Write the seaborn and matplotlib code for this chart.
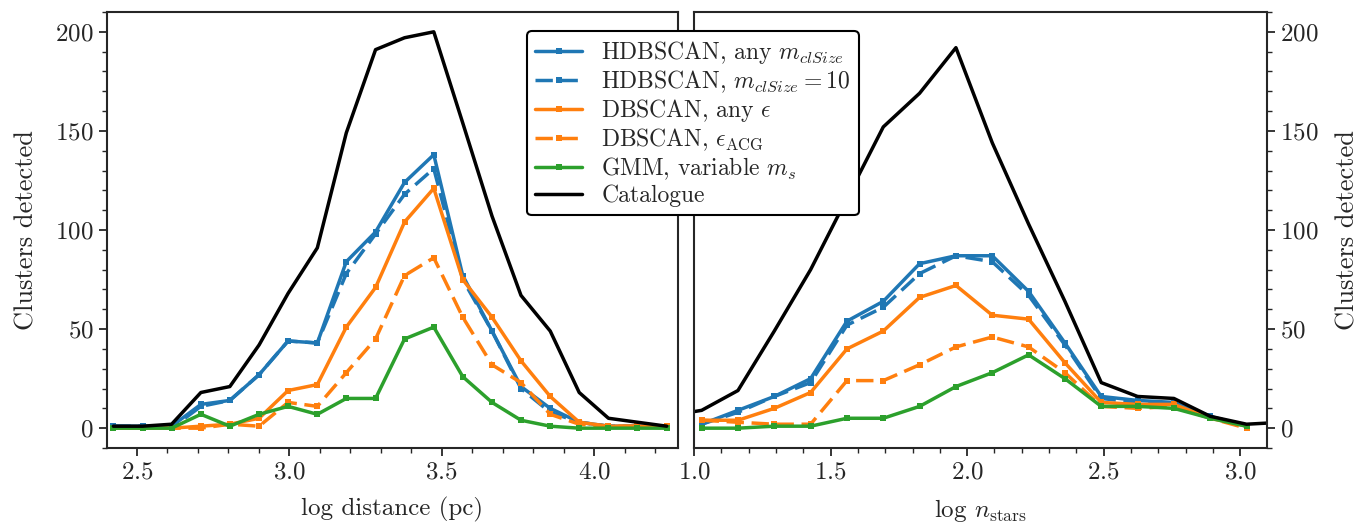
import matplotlib
matplotlib.use("Agg")
import matplotlib.pyplot as plt
import pandas as pd
import seaborn as sns
from matplotlib.ticker import MultipleLocator

# bin centres
log_dist = [2.423, 2.519, 2.614, 2.710, 2.805, 2.901, 2.996, 3.092, 3.187, 3.283,
            3.378, 3.474, 3.569, 3.665, 3.760, 3.856, 3.951, 4.047, 4.142, 4.238]
log_nstars = [1.028, 1.161, 1.294, 1.427, 1.560, 1.693, 1.826, 1.959,
              2.092, 2.225, 2.358, 2.491, 2.624, 2.757, 2.890, 3.023]
log_nstars_cat = [0.895] + log_nstars + [3.156]

# clusters detected vs distance
dist_hdb_any = [1, 1, 1, 12, 14, 27, 44, 43, 84, 99, 124, 138, 77, 49, 21, 10, 3, 1, 1, 1]
dist_hdb_10 = [1, 1, 0, 11, 14, 27, 44, 43, 78, 98, 118, 131, 75, 49, 20, 8, 3, 1, 1, 1]
dist_db_any = [0, 0, 0, 1, 2, 5, 19, 22, 51, 71, 104, 121, 75, 56, 34, 16, 3, 1, 1, 1]
dist_db_acg = [0, 0, 0, 0, 2, 1, 13, 11, 28, 45, 77, 86, 56, 32, 23, 7, 2, 1, 1, 0]
dist_gmm = [0, 0, 0, 7, 1, 7, 11, 7, 15, 15, 45, 51, 26, 13, 4, 1, 0, 0, 0, 0]
dist_cat = [1, 1, 2, 18, 21, 42, 68, 91, 149, 191, 197, 200, 154, 107, 67, 49, 18, 5, 3, 1]

# clusters detected vs number of stars
ns_hdb_any = [2, 9, 16, 25, 54, 64, 83, 87, 87, 69, 43, 16, 14, 13, 6, 1]
ns_hdb_10 = [2, 8, 16, 23, 52, 61, 78, 87, 84, 67, 42, 15, 13, 12, 6, 1]
ns_db_any = [4, 4, 10, 18, 40, 49, 66, 72, 57, 55, 33, 13, 12, 12, 5, 1]
ns_db_acg = [4, 3, 2, 2, 24, 24, 32, 41, 46, 41, 28, 11, 10, 11, 5, 0]
ns_gmm = [0, 0, 1, 1, 5, 5, 11, 21, 28, 37, 25, 11, 11, 10, 5, 1]
ns_cat = [6, 9, 19, 49, 80, 116, 152, 169, 192, 144, 103, 64, 23, 16, 15, 6, 2, 3]

labels = [r'HDBSCAN, any $m_{clSize}$', r'HDBSCAN, $m_{clSize} = 10$',
          r'DBSCAN, any $\epsilon$', r'DBSCAN, $\epsilon_{\rm ACG}$',
          r'GMM, variable $m_s$', 'Catalogue']
colors = ['tab:blue', 'tab:blue', 'tab:orange', 'tab:orange', 'tab:green', 'black']
dashed = [False, True, False, True, False, False]

sns.set_style('ticks')
plt.rcParams['font.family'] = 'serif'
plt.rcParams['font.serif'] = ['cmr10']
plt.rcParams['mathtext.fontset'] = 'cm'
plt.rcParams['axes.formatter.use_mathtext'] = True
plt.rcParams['axes.unicode_minus'] = False
plt.rcParams['font.size'] = 18

fig = plt.figure(figsize=(13.68, 5.26), dpi=100)
ax1 = fig.add_axes([0.0782, 0.1483, 0.4174, 0.8289])
ax2 = fig.add_axes([0.5073, 0.1483, 0.4189, 0.8289])


def draw(ax, x, xcat, series, cat):
    for ys, lab, col, dsh in zip(series, labels[:5], colors[:5], dashed[:5]):
        df = pd.DataFrame({'x': x, 'y': ys})
        sns.lineplot(data=df, x='x', y='y', ax=ax, color=col, lw=2.5,
                     marker='s', markersize=4.5, markeredgewidth=0, label=lab,
                     legend=False)
        if dsh:
            ax.lines[-1].set_dashes((5, 2.2))
    df = pd.DataFrame({'x': xcat, 'y': cat})
    sns.lineplot(data=df, x='x', y='y', ax=ax, color='black', lw=2.5,
                 label=labels[5], legend=False)


draw(ax1, log_dist, log_dist,
     [dist_hdb_any, dist_hdb_10, dist_db_any, dist_db_acg, dist_gmm], dist_cat)
draw(ax2, log_nstars, log_nstars_cat,
     [ns_hdb_any, ns_hdb_10, ns_db_any, ns_db_acg, ns_gmm], ns_cat)

ax1.set_xlim(2.402, 4.275)
ax2.set_xlim(1.0, 3.098)
for ax in (ax1, ax2):
    ax.set_ylim(-10, 210)
    ax.xaxis.set_major_locator(MultipleLocator(0.5))
    ax.xaxis.set_minor_locator(MultipleLocator(0.1))
    ax.yaxis.set_major_locator(MultipleLocator(50))
    ax.yaxis.set_minor_locator(MultipleLocator(10))
    ax.tick_params(which='major', length=6, width=1.3, labelsize=18)
    ax.tick_params(which='minor', length=3.5, width=1.0)
    for sp in ax.spines.values():
        sp.set_linewidth(1.5)
    ax.set_ylabel('Clusters detected', fontsize=19, labelpad=12)

ax1.set_xlabel('log distance (pc)', fontsize=18, labelpad=10)
ax2.set_xlabel(r'log $n_{\rm stars}$', fontsize=18, labelpad=10)
ax2.yaxis.tick_right()
ax2.yaxis.set_label_position('right')

handles, labs = ax1.get_legend_handles_labels()
leg = fig.legend(handles, labs, loc='upper left',
                 bbox_to_anchor=(527 / 1368, 1 - 31 / 526),
                 bbox_transform=fig.transFigure, borderaxespad=0,
                 fontsize=17, framealpha=1, edgecolor='black', fancybox=True,
                 labelspacing=0.1, handlelength=2.0, borderpad=0.35)
leg.get_frame().set_linewidth(1.5)

fig.savefig('out.png', dpi=100)
